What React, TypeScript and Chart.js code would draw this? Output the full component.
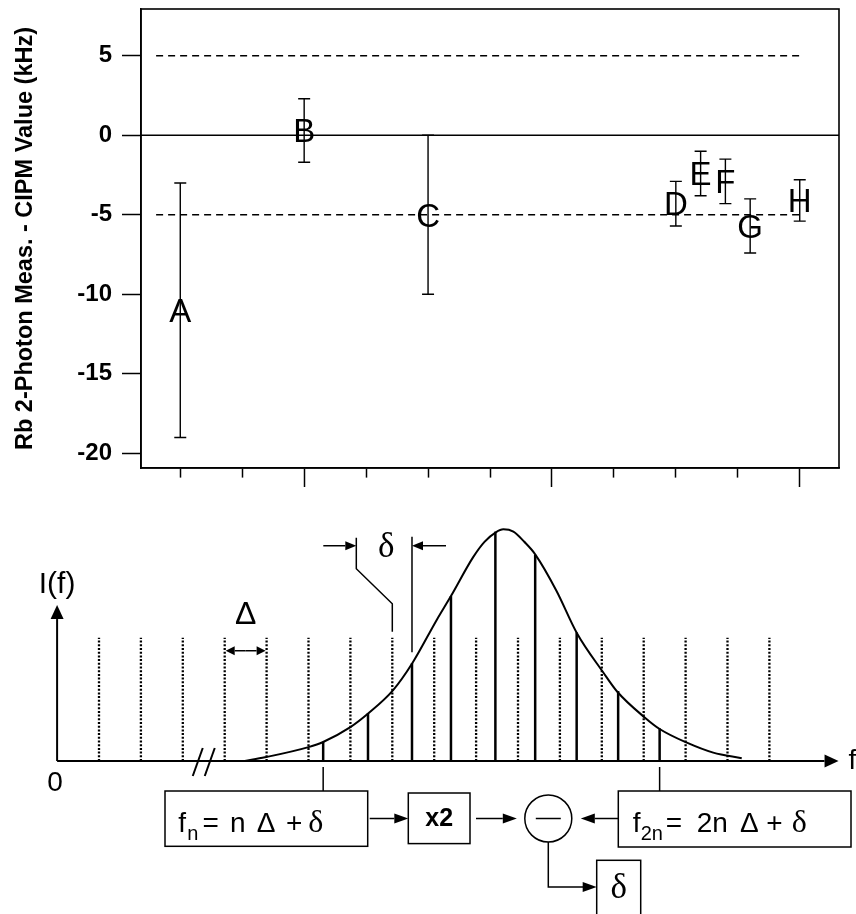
import React, { useEffect, useRef } from 'react';
import { Chart, registerables } from 'chart.js';

Chart.register(...registerables);

const SANS = '"Liberation Sans", Arial, Helvetica, sans-serif';
const SERIF = '"Liberation Serif", "DejaVu Serif", serif';

// ---------------- Top panel data ----------------
const pointLabels = ['A', 'B', 'C', 'D', 'E', 'F', 'G', 'H'];
const xPositions = [0, 2, 4, 8, 8.4, 8.8, 9.2, 10];
const deltaValues = [-11, 0.3, -5, -4.3, -2.4, -2.9, -5.7, -4.1];
const deltaErrors = [8, 2, 5, 1.4, 1.4, 1.4, 1.7, 1.3];
const yTickValues = [-20, -15, -10, -5, 0, 5];
const xTickValues = [0, 1, 2, 3, 4, 5, 6, 7, 8, 9, 10];
const xMajorTicks = [2, 6, 10];
const refLevels = [5, -5];
const refSpan = [-0.39, 10];
const yTitle = 'Rb 2-Photon Meas. - CIPM Value (kHz)';
const topXRange = [-0.634, 10.634];
const topYRange = [-20.92, 7.94];

// ---------------- Bottom panel data ----------------
const combModes = [0, 1, 2, 3, 4, 5, 6, 7, 8, 9, 10, 11, 12, 13, 14, 15, 16];
const combHeight = 53.2;
const shiftedModes = [5.35, 6.42, 7.47, 8.4, 9.46, 10.41, 11.4, 12.39, 13.38];
const shiftedHeights = [8.3, 20.6, 42.2, 71.2, 99, 89, 55.5, 30.2, 14.1];
const curveX = [3.48, 3.96, 5.0, 5.35, 5.99, 6.43, 7.02, 7.48, 8.06, 8.4, 8.93, 9.2, 9.47, 9.65, 9.89, 10.15, 10.41, 10.92, 11.4, 12.04, 12.37, 13.03, 13.39, 14.03, 14.66, 15.34];
const curveY = [0, 1.6, 6.0, 8.2, 14.5, 20.6, 30.6, 42.3, 60.9, 71.2, 88.0, 94.6, 98.7, 100, 99.0, 94.6, 89.2, 73.4, 55.4, 38.1, 29.9, 18.7, 13.7, 7.9, 3.6, 1.2];
const axisStart = -1;
const axisEnd = 17.65;
const yAxisTop = 67.3;
const botXRange = [-2.3628, 18.0668];
const botYRange = [-66.03, 116.96];

// ---------------- helpers ----------------
function poly(ctx: CanvasRenderingContext2D, pts: number[][]) {
  ctx.beginPath();
  ctx.moveTo(pts[0][0], pts[0][1]);
  for (let i = 1; i < pts.length; i++) ctx.lineTo(pts[i][0], pts[i][1]);
  ctx.stroke();
}

function arrow(ctx: CanvasRenderingContext2D, x1: number, y1: number, x2: number, y2: number, len = 13, hw = 5) {
  const a = Math.atan2(y2 - y1, x2 - x1);
  const bx = x2 - len * Math.cos(a);
  const by = y2 - len * Math.sin(a);
  poly(ctx, [[x1, y1], [bx, by]]);
  ctx.beginPath();
  ctx.moveTo(x2, y2);
  ctx.lineTo(bx - hw * Math.sin(a), by + hw * Math.cos(a));
  ctx.lineTo(bx + hw * Math.sin(a), by - hw * Math.cos(a));
  ctx.closePath();
  ctx.fill();
}

type Run = { t: string; dx: number; font: string; dy?: number };
function drawRuns(ctx: CanvasRenderingContext2D, x0: number, y0: number, list: Run[]) {
  ctx.textAlign = 'left';
  ctx.textBaseline = 'alphabetic';
  list.forEach((r) => {
    ctx.font = r.font;
    ctx.fillText(r.t, x0 + r.dx, y0 + (r.dy || 0));
  });
}

const topPlugin = {
  id: 'topDecor',
  afterDatasetsDraw(chart: any) {
    const { ctx, chartArea: a, scales } = chart;
    const xs = scales.x;
    const ys = scales.y;
    ctx.save();
    ctx.strokeStyle = '#000';
    ctx.fillStyle = '#000';
    ctx.lineWidth = 1.6;
    ctx.strokeRect(a.left, a.top, a.right - a.left, a.bottom - a.top);
    pointLabels.forEach((lab, i) => {
      const px = xs.getPixelForValue(xPositions[i]);
      const py = ys.getPixelForValue(deltaValues[i]);
      ctx.font = `33px ${SANS}`;
      ctx.textAlign = 'center';
      ctx.textBaseline = 'alphabetic';
      ctx.fillText(lab, px, py + 11.8);
      const y1 = ys.getPixelForValue(deltaValues[i] + deltaErrors[i]);
      const y2 = ys.getPixelForValue(deltaValues[i] - deltaErrors[i]);
      ctx.lineWidth = 1.4;
      ctx.beginPath();
      ctx.moveTo(px, y1);
      ctx.lineTo(px, y2);
      ctx.moveTo(px - 6, y1);
      ctx.lineTo(px + 6, y1);
      ctx.moveTo(px - 6, y2);
      ctx.lineTo(px + 6, y2);
      ctx.stroke();
    });
    ctx.restore();
  },
};

const bottomPlugin = {
  id: 'diagram',
  afterDatasetsDraw(chart: any) {
    const { ctx, scales } = chart;
    const X = (v: number) => scales.x.getPixelForValue(v);
    const Y = (v: number) => scales.y.getPixelForValue(v);
    const y0 = Y(0);
    ctx.save();
    ctx.strokeStyle = '#000';
    ctx.fillStyle = '#000';
    ctx.lineCap = 'butt';

    // axes
    ctx.lineWidth = 2;
    const xa = X(axisStart);
    arrow(ctx, xa, y0, X(axisEnd), y0, 14, 6.5);
    arrow(ctx, xa, y0, xa, Y(yAxisTop), 14, 6.5);

    ctx.font = `30px ${SANS}`;
    ctx.textAlign = 'center';
    ctx.textBaseline = 'middle';
    ctx.fillText('I(f)', xa, Y(yAxisTop) - 20);
    ctx.font = `28px ${SANS}`;
    ctx.fillText('0', xa - 2, y0 + 22);
    ctx.textAlign = 'left';
    ctx.fillText('f', X(axisEnd) + 10, y0);

    // axis break
    ctx.lineWidth = 2;
    const bx = X(2.5);
    [-6, 6].forEach((o) => poly(ctx, [[bx + o - 5, y0 + 15], [bx + o + 5, y0 - 13]]));

    // Delta spacing marker
    ctx.lineWidth = 1.5;
    const dTop = Y(combHeight);
    const dA = X(3);
    const dB = X(4);
    arrow(ctx, (dA + dB) / 2, dTop + 13, dA + 1, dTop + 13, 9, 4.5);
    arrow(ctx, (dA + dB) / 2, dTop + 13, dB - 1, dTop + 13, 9, 4.5);
    ctx.font = `32px ${SANS}`;
    ctx.textAlign = 'center';
    ctx.textBaseline = 'middle';
    ctx.fillText('Δ', (dA + dB) / 2, dTop - 23);

    // delta offset marker
    const lx = X(7);
    const rx = X(shiftedModes[2]);
    const kx = lx - 36;
    poly(ctx, [[lx, dTop - 6], [lx, dTop - 34], [kx, dTop - 69], [kx, dTop - 100]]);
    poly(ctx, [[rx, Y(shiftedHeights[2]) - 11], [rx, dTop - 101]]);
    const ay = dTop - 92;
    arrow(ctx, kx - 33, ay, kx, ay, 11, 4.5);
    arrow(ctx, rx + 34, ay, rx, ay, 11, 4.5);
    ctx.font = `35px ${SERIF}`;
    ctx.fillText('δ', (kx + rx) / 2 + 2, ay + 2);

    // connectors from teeth to boxes
    ctx.lineWidth = 1.5;
    const boxTop = y0 + 30;
    poly(ctx, [[X(shiftedModes[0]), y0 + 6], [X(shiftedModes[0]), boxTop]]);
    poly(ctx, [[X(shiftedModes[8]), y0 + 6], [X(shiftedModes[8]), boxTop]]);

    // boxes
    const midY = boxTop + 27.5;
    const b1 = { l: 165, r: 367.7 };
    const bx2 = { l: 408.3, r: 470 };
    const b3 = { l: 618.3, r: 851 };
    ctx.strokeRect(b1.l, boxTop, b1.r - b1.l, 55.3);
    ctx.strokeRect(bx2.l, boxTop + 2, bx2.r - bx2.l, 50.6);
    ctx.strokeRect(b3.l, boxTop, b3.r - b3.l, 56);

    const main = `28px ${SANS}`;
    const sub = `20px ${SANS}`;
    const sym = `28px ${SANS}`;
    const del = `32px ${SERIF}`;
    const base = boxTop + 41;
    drawRuns(ctx, b1.l, base, [
      { t: 'f', dx: 13.3, font: main },
      { t: 'n', dx: 22.3, font: sub, dy: 8 },
      { t: '=', dx: 37.5, font: main },
      { t: 'n', dx: 65, font: main },
      { t: 'Δ', dx: 91.7, font: sym },
      { t: '+', dx: 121, font: main },
      { t: 'δ', dx: 143.3, font: del },
    ]);
    drawRuns(ctx, b3.l, base, [
      { t: 'f', dx: 14.4, font: main },
      { t: '2n', dx: 22.4, font: sub, dy: 8 },
      { t: '=', dx: 47.5, font: main },
      { t: '2n', dx: 78.4, font: main },
      { t: 'Δ', dx: 121.7, font: sym },
      { t: '+', dx: 148, font: main },
      { t: 'δ', dx: 173.4, font: del },
    ]);
    ctx.font = `bold 25px ${SANS}`;
    ctx.textAlign = 'center';
    ctx.textBaseline = 'middle';
    ctx.fillText('x2', (bx2.l + bx2.r) / 2, midY + 1);

    // circle subtractor
    const cx = 548.3;
    const r = 23.5;
    ctx.beginPath();
    ctx.arc(cx, midY, r, 0, Math.PI * 2);
    ctx.stroke();
    poly(ctx, [[cx - 12.5, midY], [cx + 12.5, midY]]);

    arrow(ctx, b1.r + 2, midY, bx2.l, midY, 14, 5);
    arrow(ctx, bx2.r + 6, midY, cx - r - 8, midY, 14, 5);
    arrow(ctx, b3.l, midY, cx + r + 9, midY, 14, 5);

    // output
    const dBox = { l: 596.7, r: 640.7, t: boxTop + 69.3 };
    const outY = dBox.t + 26.7;
    poly(ctx, [[cx, midY + r], [cx, outY], [dBox.l - 12, outY]]);
    arrow(ctx, dBox.l - 14, outY, dBox.l, outY, 14, 5);
    ctx.strokeRect(dBox.l, dBox.t, dBox.r - dBox.l, 70);
    ctx.font = `35px ${SERIF}`;
    ctx.textAlign = 'center';
    ctx.fillText('δ', (dBox.l + dBox.r) / 2, outY + 2);

    ctx.restore();
  },
};

export default function App() {
  const topRef = useRef<HTMLCanvasElement>(null);
  const botRef = useRef<HTMLCanvasElement>(null);

  useEffect(() => {
    Chart.defaults.font.family = SANS;
    Chart.defaults.color = '#000';

    const top = new Chart(topRef.current as HTMLCanvasElement, {
      type: 'scatter',
      data: {
        datasets: [
          {
            data: pointLabels.map((_, i) => ({ x: xPositions[i], y: deltaValues[i] })),
            pointRadius: 0,
            showLine: false,
          },
          ...refLevels.map((v) => ({
            data: [{ x: refSpan[0], y: v }, { x: refSpan[1], y: v }],
            showLine: true,
            borderColor: '#000',
            borderWidth: 1.4,
            borderDash: [7, 5],
            pointRadius: 0,
          })),
          {
            data: [{ x: topXRange[0], y: 0 }, { x: topXRange[1], y: 0 }],
            showLine: true,
            borderColor: '#000',
            borderWidth: 1.5,
            pointRadius: 0,
          },
        ],
      },
      options: {
        animation: false,
        responsive: false,
        layout: { padding: { top: 9, right: 17, left: 0, bottom: 0 } },
        plugins: { legend: { display: false }, tooltip: { enabled: false } },
        scales: {
          x: {
            type: 'linear',
            min: topXRange[0],
            max: topXRange[1],
            afterBuildTicks: (s: any) => {
              s.ticks = xTickValues.map((v) => ({ value: v }));
            },
            afterFit: (s: any) => {
              s.height = 22;
              s.paddingLeft = 0;
              s.paddingRight = 0;
            },
            ticks: { display: false },
            grid: {
              drawOnChartArea: false,
              drawTicks: true,
              tickLength: 19,
              tickColor: '#000',
              tickWidth: 1.5,
              tickBorderDash: (c: any) => (c.tick && xMajorTicks.includes(c.tick.value) ? [] : [9, 40]),
            },
            border: { display: true, color: '#000', width: 1.6 },
          },
          y: {
            type: 'linear',
            min: topYRange[0],
            max: topYRange[1],
            afterBuildTicks: (s: any) => {
              s.ticks = yTickValues.map((v) => ({ value: v }));
            },
            afterFit: (s: any) => {
              s.width = 141;
              s.paddingTop = 0;
              s.paddingBottom = 0;
            },
            ticks: { color: '#000', font: { size: 24, weight: 'bold' }, padding: 10 },
            grid: { drawOnChartArea: false, tickLength: 19, tickColor: '#000', tickWidth: 1.5 },
            border: { display: true, color: '#000', width: 1.6 },
            title: {
              display: true,
              text: yTitle,
              color: '#000',
              font: { size: 23.5, weight: 'bold' },
              padding: { top: 11, bottom: 0 },
            },
          },
        },
      },
      plugins: [topPlugin],
    } as any);

    const bot = new Chart(botRef.current as HTMLCanvasElement, {
      type: 'scatter',
      data: {
        datasets: [
          {
            data: curveX.map((x, i) => ({ x, y: curveY[i] })),
            showLine: true,
            borderColor: '#000',
            borderWidth: 2,
            cubicInterpolationMode: 'monotone',
            pointRadius: 0,
          },
          ...combModes.map((n) => ({
            data: [{ x: n, y: 0 }, { x: n, y: combHeight }],
            showLine: true,
            borderColor: '#000',
            borderWidth: 2.3,
            borderDash: [2, 1.7],
            pointRadius: 0,
          })),
          ...shiftedModes.map((n, i) => ({
            data: [{ x: n, y: 0 }, { x: n, y: shiftedHeights[i] }],
            showLine: true,
            borderColor: '#000',
            borderWidth: 2.5,
            pointRadius: 0,
          })),
        ],
      },
      options: {
        animation: false,
        responsive: false,
        layout: { padding: 0 },
        plugins: { legend: { display: false }, tooltip: { enabled: false } },
        scales: {
          x: { type: 'linear', display: false, min: botXRange[0], max: botXRange[1] },
          y: { type: 'linear', display: false, min: botYRange[0], max: botYRange[1] },
        },
      },
      plugins: [bottomPlugin],
    } as any);

    return () => {
      top.destroy();
      bot.destroy();
    };
  }, []);

  return (
    <div style={{ position: 'absolute', left: 0, top: 0, width: 856, height: 914, background: '#fff', overflow: 'hidden' }}>
      <canvas ref={topRef} width={856} height={490} style={{ position: 'absolute', left: 0, top: 0 }} />
      <canvas ref={botRef} width={856} height={424} style={{ position: 'absolute', left: 0, top: 490 }} />
    </div>
  );
}
